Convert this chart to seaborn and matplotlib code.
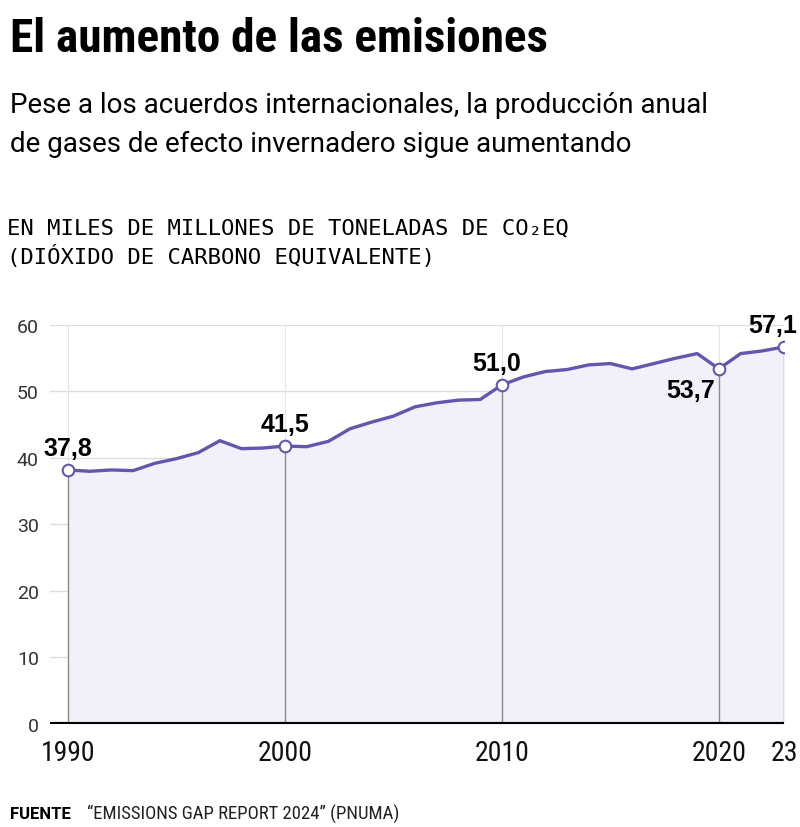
import matplotlib
matplotlib.use('Agg')
import matplotlib.pyplot as plt
import pandas as pd
import seaborn as sns

# datos (miles de millones de toneladas de CO2eq)
years = list(range(1990, 2024))
values = [38.2, 38.0, 38.2, 38.1, 39.2, 39.9, 40.8, 42.6, 41.4, 41.5,
          41.8, 41.7, 42.5, 44.4, 45.4, 46.3, 47.7, 48.3, 48.7, 48.8,
          51.0, 52.2, 53.0, 53.3, 54.0, 54.2, 53.4, 54.2, 55.0, 55.7,
          53.4, 55.7, 56.1, 56.7]
hl_years = [1990, 2000, 2010, 2020, 2023]
hl_labels = ['37,8', '41,5', '51,0', '53,7', '57,1']
x_ticks = [1990, 2000, 2010, 2020, 2023]
x_ticklabels = ['1990', '2000', '2010', '2020', '23']
y_ticks = [0, 10, 20, 30, 40, 50, 60]

df = pd.DataFrame({'year': years, 'value': values})

sns.set_style('white')
plt.rcParams['font.family'] = ['Roboto', 'DejaVu Sans']
plt.rcParams['text.color'] = 'black'

line_c = '#6455ad'
fill_c = '#f2f1f9'
cond = ['Roboto Condensed', 'Roboto', 'DejaVu Sans']

fig = plt.figure(figsize=(8, 8.28), dpi=100)
ax = fig.add_axes([0.0625, 0.1244, 0.9175, 0.4819])

ax.fill_between(df['year'], 0, df['value'], color=fill_c, zorder=1)
for yv in y_ticks[1:]:
    ax.axhline(yv, color='#dddddd', lw=1, zorder=0)

lookup = dict(zip(years, values))
for yr in hl_years:
    v = lookup[yr]
    ax.plot([yr, yr], [0, v], color='#8a8a8a', lw=1, zorder=2)
    if yr != 2023:
        ax.plot([yr, yr], [v, 60], color='#e6e6e6', lw=0.8, zorder=0)

sns.lineplot(data=df, x='year', y='value', ax=ax, color=line_c, lw=2.4, zorder=3)
ax.scatter(hl_years, [lookup[y] for y in hl_years], s=70, facecolor='white',
           edgecolor=line_c, linewidth=1.5, zorder=4)

ax.axhline(0, color='black', lw=3, zorder=5)

offsets = {1990: (0, 1.5, 'center', 'bottom'),
           2000: (0, 1.5, 'center', 'bottom'),
           2010: (-0.25, 1.5, 'center', 'bottom'),
           2020: (-1.3, -1.4, 'center', 'top'),
           2023: (-0.5, 1.5, 'center', 'bottom')}
for yr, lab in zip(hl_years, hl_labels):
    dx, dy, ha, va = offsets[yr]
    ax.text(yr + dx, lookup[yr] + dy, lab, ha=ha, va=va, fontsize=18,
            fontweight='bold', color='black', family=['Liberation Sans', 'DejaVu Sans'],
            zorder=6)

ax.set_xlim(1989.17, 2023.0)
ax.set_ylim(0, 60)
ax.set_xticks(x_ticks)
ax.set_xticklabels(x_ticklabels, fontsize=20, color='#111111', family=cond)
ax.set_yticks(y_ticks)
ax.set_yticklabels([str(v) for v in y_ticks], fontsize=14, color='#333333')
ax.tick_params(axis='x', length=9, width=1, color='#888888', pad=2)
ax.tick_params(axis='y', length=0, pad=8)
ax.set_xlabel('')
ax.set_ylabel('')
for s in ax.spines.values():
    s.set_visible(False)
ax.patch.set_alpha(0)

fig.text(0.0125, 0.953, 'El aumento de las emisiones', fontsize=34, fontweight='black',
         family=cond, va='center', ha='left', color='black')
fig.text(0.0125, 0.873, 'Pese a los acuerdos internacionales, la producción anual',
         fontsize=20, va='center', ha='left', color='black')
fig.text(0.0125, 0.825, 'de gases de efecto invernadero sigue aumentando',
         fontsize=20, va='center', ha='left', color='black')
fig.text(0.009, 0.724, 'EN MILES DE MILLONES DE TONELADAS DE CO₂EQ',
         fontsize=16, family=['DejaVu Sans Mono'], va='center', ha='left', color='black')
fig.text(0.009, 0.690, '(DIÓXIDO DE CARBONO EQUIVALENTE)',
         fontsize=16, family=['DejaVu Sans Mono'], va='center', ha='left', color='black')
fig.text(0.0125, 0.016, 'FUENTE', fontsize=12, fontweight='bold', va='center', ha='left')
fig.text(0.109, 0.016, '“EMISSIONS GAP REPORT 2024” (PNUMA)', fontsize=13.5,
         family=cond, va='center', ha='left', color='#222222')

fig.savefig('out.png', dpi=100)
